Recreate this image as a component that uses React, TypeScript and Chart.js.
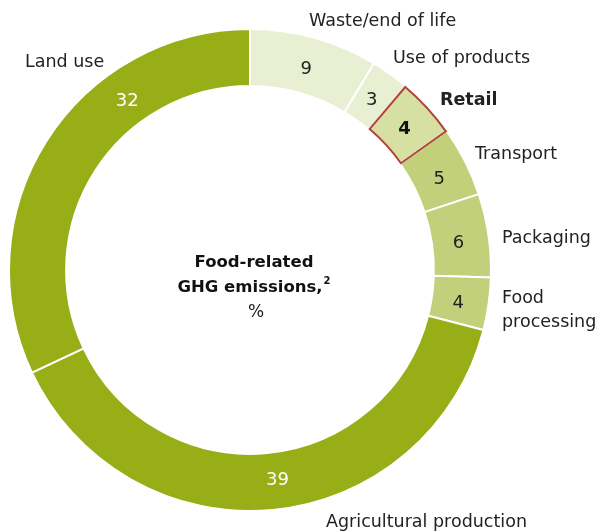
import React, { useEffect, useRef } from "react";
import { Chart, registerables } from "chart.js";

Chart.register(...registerables);

// ---- data ----
const categories = [
  "Waste/end of life",
  "Use of products",
  "Retail",
  "Transport",
  "Packaging",
  "Food processing",
  "Agricultural production",
  "Land use",
];
// arc shares (%)
const shares = [8.6, 2.6, 4.0, 4.7, 5.6, 3.5, 39.0, 32.0];
// printed (rounded) values
const valueLabels = ["9", "3", "4", "5", "6", "4", "39", "32"];
const highlighted = "Retail";

// ---- styling ----
const FONT = '"DejaVu Sans", "Liberation Sans", Arial, sans-serif';
const colors = [
  "#e9efd3",
  "#e9efd3",
  "#d6e0a2",
  "#c3d07b",
  "#c3d07b",
  "#c3d07b",
  "#97ae17",
  "#97ae17",
];
const valueColors = ["#222", "#222", "#111", "#222", "#222", "#222", "#fff", "#fff"];
const valueAnchor = [0.5, 0.47, 0.48, 0.55, 0.52, 0.53, 0.485, 0.69];
// category label layout: [x, baseline y, lines]
const catLayout: [number, number, string[]][] = [
  [309, 26, ["Waste/end of life"]],
  [393, 63, ["Use of products"]],
  [440, 105, ["Retail"]],
  [475, 159, ["Transport"]],
  [502, 243, ["Packaging"]],
  [502, 303, ["Food", "processing"]],
  [326, 527, ["Agricultural production"]],
  [25, 67, ["Land use"]],
];

const labelPlugin = {
  id: "labelPlugin",
  afterDatasetsDraw(chart: any) {
    const ctx = chart.ctx as CanvasRenderingContext2D;
    const meta = chart.getDatasetMeta(0);
    ctx.save();
    meta.data.forEach((arc: any, i: number) => {
      const p = arc.getProps(
        ["x", "y", "startAngle", "endAngle", "innerRadius", "outerRadius"],
        true
      );
      if (categories[i] === highlighted) {
        ctx.beginPath();
        ctx.arc(p.x, p.y, p.outerRadius - 1, p.startAngle, p.endAngle);
        ctx.arc(p.x, p.y, p.innerRadius + 1, p.endAngle, p.startAngle, true);
        ctx.closePath();
        ctx.lineWidth = 2;
        ctx.lineJoin = "miter";
        ctx.strokeStyle = "#b0443a";
        ctx.stroke();
      }
      const a = p.startAngle + valueAnchor[i] * (p.endAngle - p.startAngle);
      const r = (p.innerRadius + p.outerRadius) / 2 - 2;
      const cx = p.x + r * Math.cos(a);
      const cy = p.y + r * Math.sin(a);
      const bold = categories[i] === highlighted;
      ctx.font = `${bold ? "bold " : ""}18px ${FONT}`;
      ctx.fillStyle = valueColors[i];
      ctx.textAlign = "center";
      ctx.textBaseline = "alphabetic";
      ctx.fillText(valueLabels[i], cx, cy + 6.5);
    });

    // category labels
    catLayout.forEach(([x, y, lines], i) => {
      const bold = categories[i] === highlighted;
      ctx.font = `${bold ? "bold " : ""}17.5px ${FONT}`;
      ctx.fillStyle = "#222";
      ctx.textAlign = "left";
      ctx.textBaseline = "alphabetic";
      lines.forEach((ln, k) => ctx.fillText(ln, x, y + k * 24));
    });

    // center title
    const c = meta.data[0];
    const cxm = c.x + 4;
    const cym = c.y;
    ctx.fillStyle = "#111";
    ctx.textAlign = "center";
    ctx.font = `bold 16.5px ${FONT}`;
    ctx.fillText("Food-related", cxm, cym - 3);
    const t2 = "GHG emissions,";
    const w2 = ctx.measureText(t2).width;
    ctx.font = `bold 10px ${FONT}`;
    const ws = ctx.measureText("2").width + 1;
    ctx.font = `bold 16.5px ${FONT}`;
    ctx.textAlign = "left";
    const sx = cxm - (w2 + ws) / 2;
    ctx.fillText(t2, sx, cym + 22);
    ctx.font = `bold 10px ${FONT}`;
    ctx.fillText("2", sx + w2 + 1, cym + 14);
    ctx.textAlign = "center";
    ctx.font = `17px ${FONT}`;
    ctx.fillStyle = "#222";
    ctx.fillText("%", cxm + 2, cym + 47);
    ctx.restore();
  },
};

export default function App() {
  const ref = useRef<HTMLCanvasElement | null>(null);
  useEffect(() => {
    if (!ref.current) return;
    const chart = new Chart(ref.current, {
      type: "doughnut",
      data: {
        labels: categories,
        datasets: [
          {
            data: shares,
            backgroundColor: colors,
            borderColor: "#ffffff",
            borderWidth: 2,
            hoverOffset: 0,
          },
        ],
      },
      options: {
        responsive: false,
        animation: false,
        radius: 241,
        cutout: "76.3%",
        rotation: 0,
        layout: { padding: { left: 0, right: 110, top: 8, bottom: 0 } },
        plugins: {
          legend: { display: false },
          tooltip: { enabled: false },
        },
        events: [],
      } as any,
      plugins: [labelPlugin],
    });
    return () => chart.destroy();
  }, []);
  return (
    <div style={{ position: "absolute", left: 0, top: 0, width: 610, height: 532, background: "#fff" }}>
      <canvas ref={ref} width={610} height={532} style={{ display: "block" }} />
    </div>
  );
}
